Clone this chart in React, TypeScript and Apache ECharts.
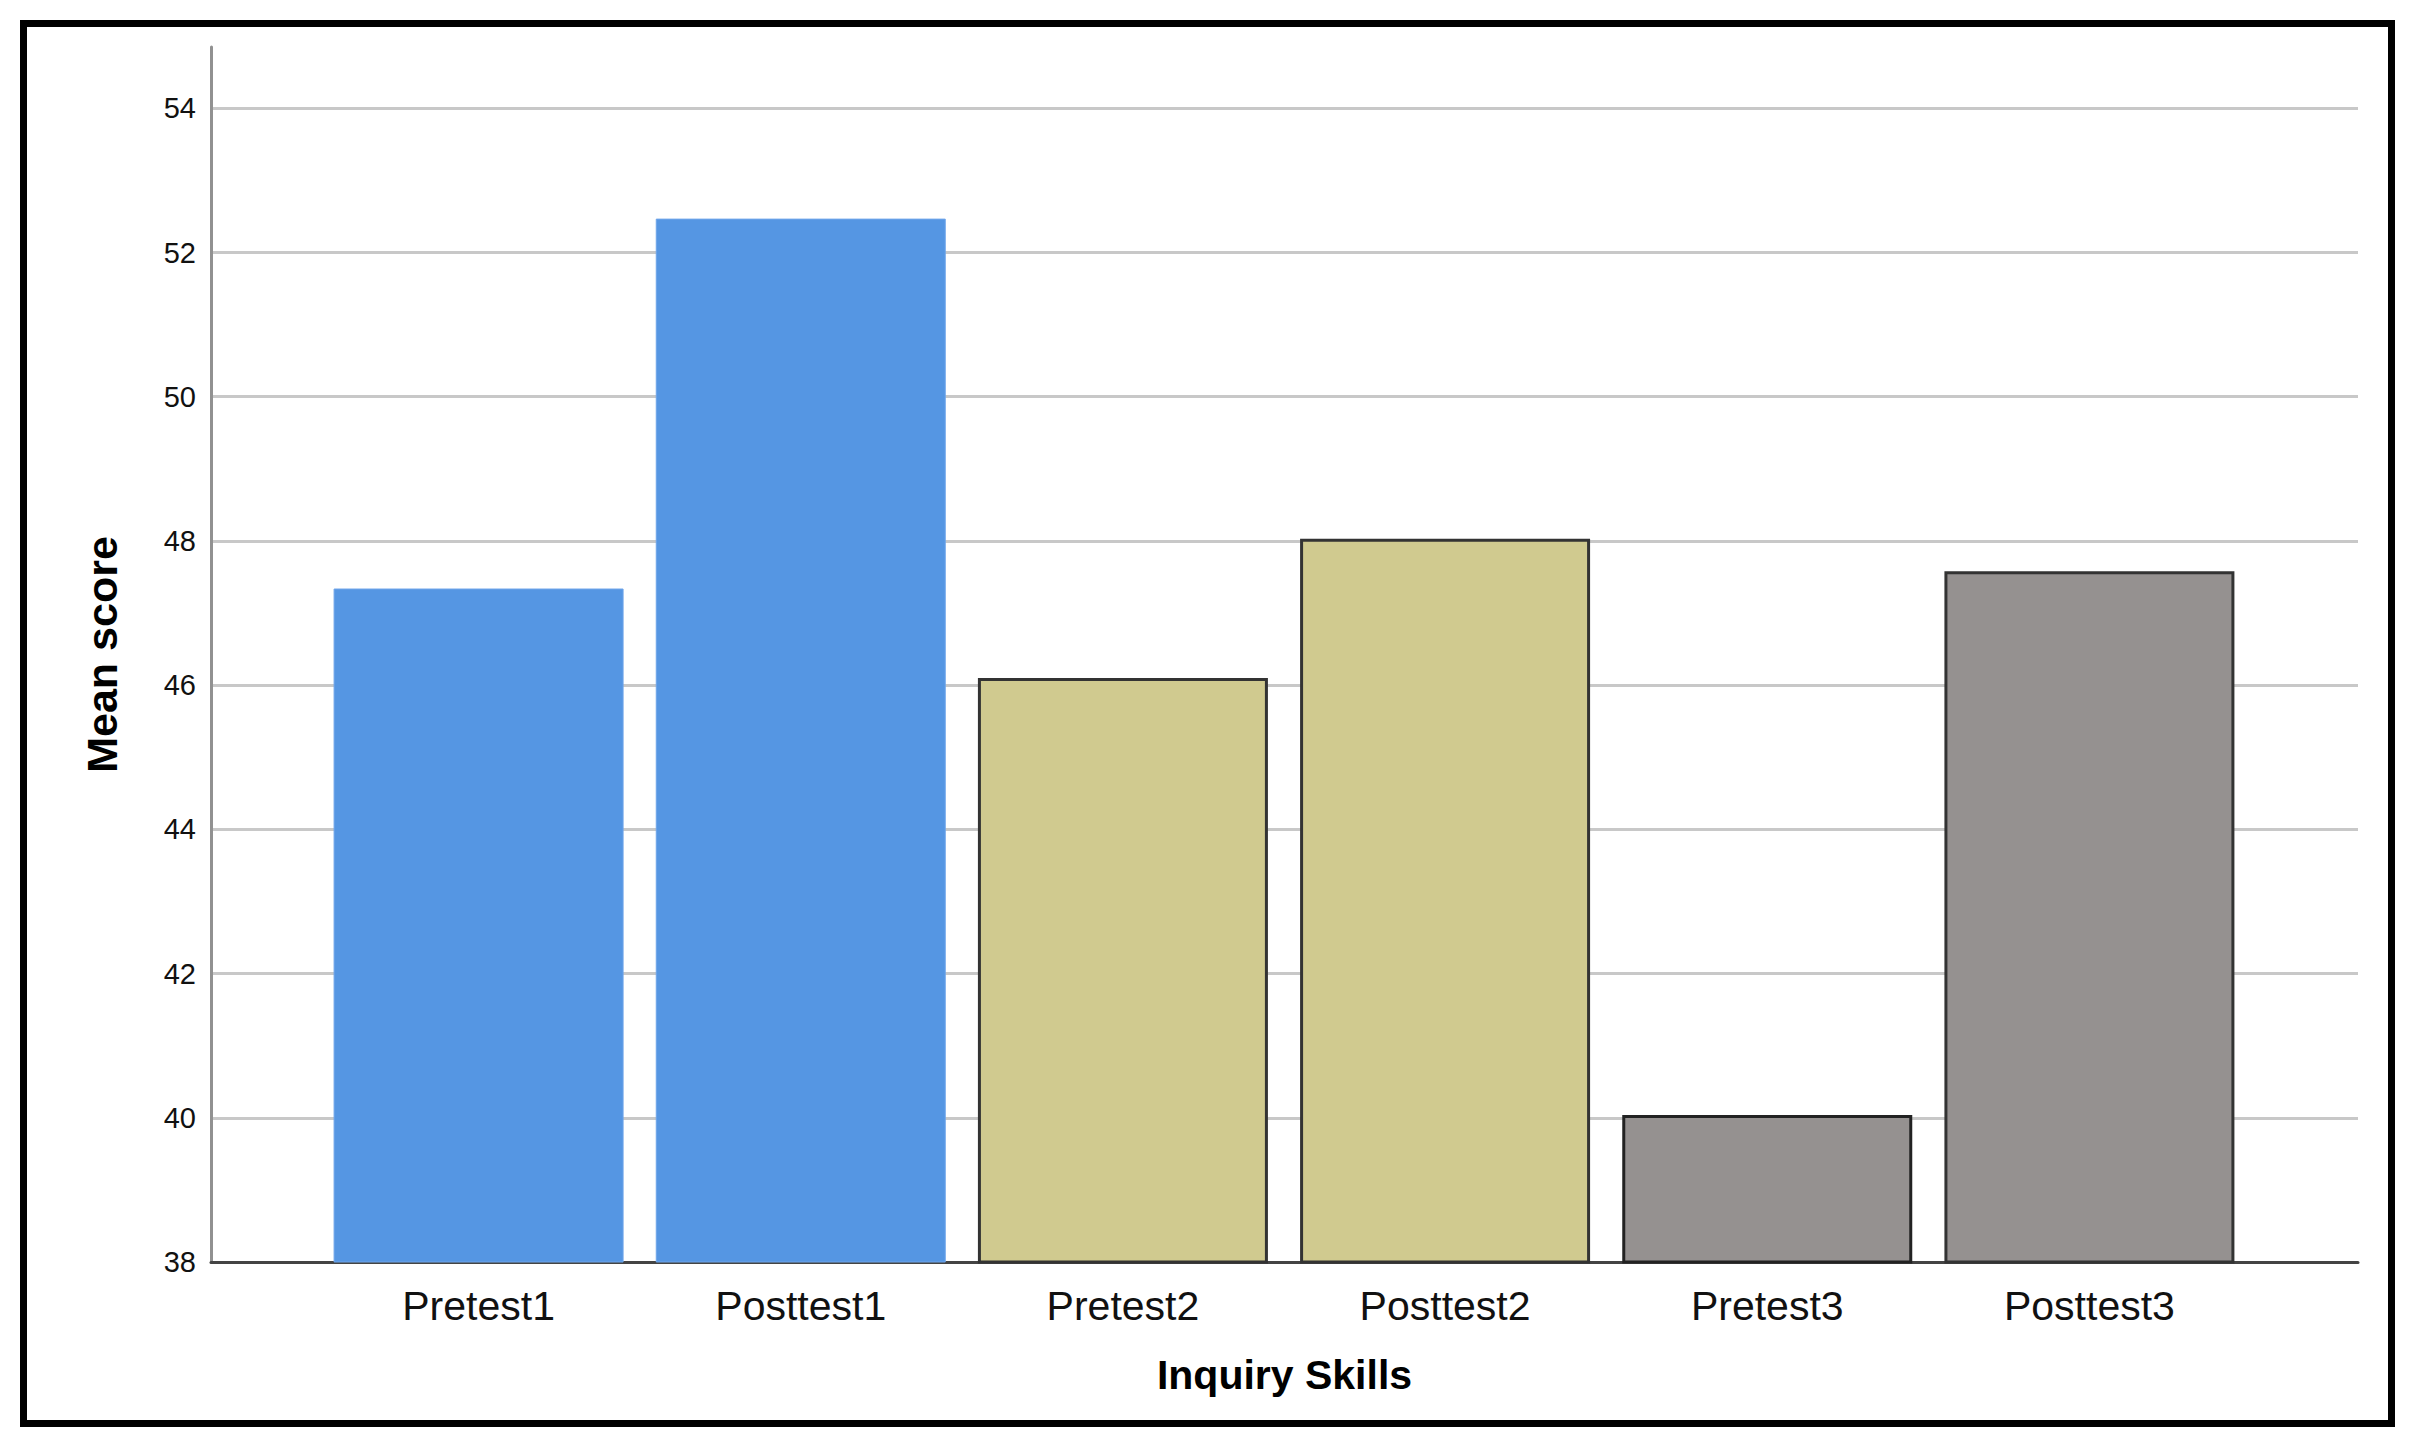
import React, { useEffect, useRef } from "react";
import * as echarts from "echarts";

const categories = ["Pretest1", "Posttest1", "Pretest2", "Posttest2", "Pretest3", "Posttest3"];
const meanScores = [47.34, 52.47, 46.1, 48.03, 40.04, 47.58];
const barColors = ["#5596e3", "#5596e3", "#d0ca8f", "#d0ca8f", "#959190", "#959190"];
const barBorders = ["#6fa5ea", "#6fa5ea", "#333333", "#333333", "#222222", "#333333"];
const barBorderWidths = [1, 1, 3, 3, 3, 3];
const yMin = 38;
const yMax = 54.85;
const yInterval = 2;

export default function App() {
  const ref = useRef<HTMLDivElement>(null);
  useEffect(() => {
    if (!ref.current) return;
    const chart = echarts.init(ref.current, null, { renderer: "svg" });
    const font = "'Liberation Sans', Arial, sans-serif";
    const option: any = {
      animation: false,
      backgroundColor: "#ffffff",
      textStyle: { fontFamily: font },
      graphic: [
        {
          type: "rect",
          shape: { x: 23.5, y: 23.5, width: 2368, height: 1400 },
          style: { fill: "none", stroke: "#000000", lineWidth: 7 },
          z: 100,
        },
      ],
      grid: [
        { left: 211, right: 55, top: 47, bottom: 181 },
        { left: 317.5, right: 162.5, top: 47, bottom: 181 },
      ],
      xAxis: [
        {
          gridIndex: 0,
          type: "value",
          min: 0,
          max: 1,
          name: "Inquiry Skills",
          nameLocation: "middle",
          nameGap: 92,
          nameTextStyle: { fontSize: 41, fontWeight: "bold", color: "#000", fontFamily: font },
          axisLine: { show: true, onZero: false, lineStyle: { color: "#444444", width: 3 } },
          axisTick: { show: false },
          axisLabel: { show: false },
          splitLine: { show: false },
        },
        {
          gridIndex: 1,
          type: "category",
          data: categories,
          axisLine: { show: false },
          axisTick: { show: false },
          axisLabel: { fontSize: 41, color: "#111", margin: 23, fontFamily: font },
          splitLine: { show: false },
        },
      ],
      yAxis: [
        {
          gridIndex: 0,
          type: "value",
          min: yMin,
          max: yMax,
          interval: yInterval,
          name: "Mean score",
          nameLocation: "middle",
          nameGap: 88,
          nameTextStyle: { fontSize: 43, fontWeight: "bold", color: "#000", fontFamily: font },
          axisLine: { show: true, lineStyle: { color: "#919191", width: 3 } },
          axisTick: { show: false },
          axisLabel: { fontSize: 29, color: "#111", margin: 15, showMaxLabel: false, fontFamily: font },
          splitLine: { show: true, showMaxLine: false, lineStyle: { color: "#c8c8c8", width: 3 } },
        },
        {
          gridIndex: 1,
          type: "value",
          min: yMin,
          max: yMax,
          interval: yInterval,
          show: false,
          splitLine: { show: false },
        },
      ],
      series: [
        {
          type: "bar",
          xAxisIndex: 1,
          yAxisIndex: 1,
          barWidth: 290,
          z: 5,
          data: meanScores.map((v, i) => ({
            value: v,
            itemStyle: {
              color: barColors[i],
              borderColor: barBorders[i],
              borderWidth: barBorderWidths[i],
            },
          })),
        },
      ],
    };
    chart.setOption(option);
    return () => chart.dispose();
  }, []);
  return (
    <div
      ref={ref}
      style={{ position: "absolute", left: 0, top: 0, width: 2413, height: 1443, background: "#fff" }}
    />
  );
}
